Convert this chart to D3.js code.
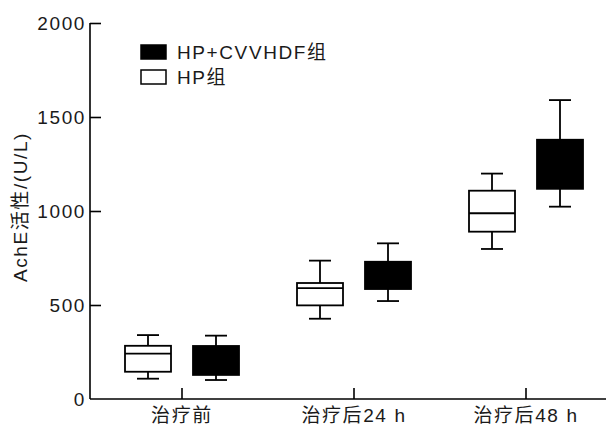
<!DOCTYPE html>
<html>
<head>
<meta charset="utf-8">
<script src="https://cdn.jsdelivr.net/npm/d3@7"></script>
<style>
body { margin: 0; background: #fff; }
text { font-family: "Liberation Sans", Arial, "Noto Sans CJK SC", sans-serif; fill: #1a1a1a; letter-spacing: 1.6px; }
</style>
</head>
<body>
<div class="chart"></div>
<script>
// categories along x
var categories = ["治疗前", "治疗后24 h", "治疗后48 h"];
var groups = ["HP组", "HP+CVVHDF组"];
// [whiskerLow, q1, median, q3, whiskerHigh]
var hpStats = [
  [108, 145, 241, 283, 340],
  [427, 498, 590, 617, 736],
  [798, 890, 988, 1108, 1199]
];
var cvvhdfStats = [
  [101, 128, 210, 282, 337],
  [521, 585, 660, 730, 828],
  [1023, 1118, 1250, 1379, 1590]
];
var yTicks = [0, 500, 1000, 1500, 2000];

var W = 606, H = 428;
var svg = d3.select("div.chart").append("svg")
    .attr("width", W).attr("height", H);

var y = d3.scaleLinear().domain([0, 2000]).range([399, 23]);
var x = d3.scaleBand().domain(categories).range([96, 612]);
var offset = d3.scaleOrdinal().domain(groups).range([-34, 34]);
var boxW = 46, capW = 22;

// axes
var yAxis = d3.axisLeft(y).tickValues(yTicks).tickFormat(d3.format("d")).tickSize(-11).tickPadding(4);
var gy = svg.append("g").attr("transform", "translate(90,0)").call(yAxis);
gy.select(".domain").remove();
gy.selectAll(".tick").filter(function(d){ return d === 0; }).select("line").remove();
gy.append("line").attr("x1", 0).attr("x2", 0).attr("y1", y(2000)).attr("y2", y(0))
  .attr("stroke", "#000").attr("stroke-width", 1.6);
gy.selectAll("line").attr("stroke-width", 1.6);
gy.selectAll(".tick text").style("font-size", "19px").attr("fill", "#1a1a1a")
  .attr("x", -4).attr("dy", "0.36em");

var xAxis = d3.axisBottom(x).tickSize(-11);
var gx = svg.append("g").attr("transform", "translate(0,399)").call(xAxis);
gx.select(".domain").remove();
gx.append("line").attr("x1", 90).attr("x2", 606).attr("y1", 0).attr("y2", 0)
  .attr("stroke", "#000").attr("stroke-width", 1.6);
gx.selectAll("line").attr("stroke-width", 1.6);
gx.selectAll(".tick text").style("font-size", "19px").attr("fill", "#1a1a1a")
  .attr("y", 16).attr("dy", "0.36em");

svg.append("text")
  .attr("transform", "translate(20,207) rotate(-90)")
  .attr("text-anchor", "middle")
  .attr("dy", "0.36em")
  .style("font-size", "19px")
  .text("AchE活性/(U/L)");

function drawBoxes(stats, group, fill) {
  var g = svg.append("g");
  stats.forEach(function(s, i) {
    var cx = x(categories[i]) + x.bandwidth() / 2 + offset(group);
    g.append("line").attr("x1", cx).attr("x2", cx).attr("y1", y(s[0])).attr("y2", y(s[4]))
      .attr("stroke", "#000").attr("stroke-width", 1.8);
    [s[0], s[4]].forEach(function(v) {
      g.append("line").attr("x1", cx - capW / 2).attr("x2", cx + capW / 2)
        .attr("y1", y(v)).attr("y2", y(v)).attr("stroke", "#000").attr("stroke-width", 1.8);
    });
    g.append("rect").attr("x", cx - boxW / 2).attr("y", y(s[3]))
      .attr("width", boxW).attr("height", y(s[1]) - y(s[3]))
      .attr("fill", fill).attr("stroke", "#000").attr("stroke-width", 1.8);
    g.append("line").attr("x1", cx - boxW / 2).attr("x2", cx + boxW / 2)
      .attr("y1", y(s[2])).attr("y2", y(s[2])).attr("stroke", "#000").attr("stroke-width", 1.8);
  });
}
drawBoxes(hpStats, "HP组", "#fff");
drawBoxes(cvvhdfStats, "HP+CVVHDF组", "#000");

// legend
var legend = [["HP+CVVHDF组", "#000"], ["HP组", "#fff"]];
legend.forEach(function(l, i) {
  var ly = 45 + i * 25;
  svg.append("rect").attr("x", 141).attr("y", ly).attr("width", 25).attr("height", 14)
    .attr("fill", l[1]).attr("stroke", "#000").attr("stroke-width", 1.5);
  svg.append("text").attr("x", 177).attr("y", ly + 7).attr("dy", "0.36em")
    .style("font-size", "19px").text(l[0]);
});
</script>
</body>
</html>
